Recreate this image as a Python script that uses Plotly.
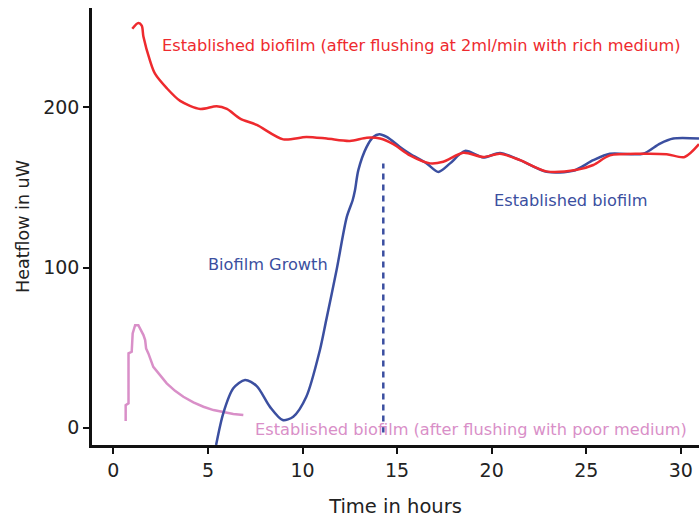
import plotly.graph_objects as go

# Red: established biofilm after flushing with rich medium
rich_t = [1.0, 1.32, 1.5, 1.59, 1.94, 2.2, 2.82, 3.53, 4.59, 5.46, 6.0, 6.7, 7.58, 8.98,
          10.2, 11.28, 12.5, 13.4, 14.1, 14.8, 15.68, 16.74, 17.44, 18.5, 19.56, 20.44,
          21.5, 22.9, 24.5, 25.37, 26.25, 28.0, 29.25, 30.2, 30.96]
rich_v = [249, 252.6, 251, 244, 229, 221, 212, 204, 199, 200.7, 199, 193, 189, 180,
          181.5, 180.5, 179, 181, 180.5, 177, 170, 165, 166, 171.6, 169, 171,
          167, 160, 161, 164, 170, 171, 170.7, 169, 177]

# Blue: biofilm growth then established biofilm
grow_t = [5.43, 5.81, 6.34, 6.96, 7.58, 8.28, 8.95, 9.51, 10.2, 10.92, 11.25, 11.8,
          12.34, 12.65, 12.77, 12.95, 13.39, 13.74, 14.06, 14.45, 15.15, 15.68, 16.56,
          17.18, 17.8, 18.59, 19.56, 20.44, 21.5, 22.9, 24.3, 25.37, 26.25, 28.0,
          28.9, 29.6, 30.96]
grow_v = [-10.8, 9, 24.6, 29.8, 26, 13, 4.8, 6.9, 19.3, 48.5, 67, 98.4,
          131.6, 142, 148, 160.8, 175.3, 181.5, 183.2, 181.5, 175.3, 171, 165,
          159.7, 165, 172.8, 168.7, 171.5, 167, 159.7, 160.3, 167, 171, 171,
          177.4, 180.5, 180.5]

# Pink: established biofilm after flushing with poor medium
poor_t = [0.65, 0.65, 0.8, 0.8, 0.97, 1.02, 1.15, 1.32, 1.59, 1.68, 1.73, 1.85, 2.11,
          2.47, 2.82, 3.26, 3.7, 4.23, 4.76, 5.29, 5.81, 6.34, 6.87]
poor_v = [4.2, 14, 15.2, 46.4, 47.4, 58.9, 64, 64, 57.8, 54.7, 49.5, 46.4, 38,
          32.9, 27.7, 23, 19.3, 15.8, 13.1, 11, 9.6, 8.5, 7.9]

# Flushing marker
flush_t = [14.27, 14.27]
flush_v = [-3, 165]

RED = "#ee2a2e"
BLUE = "#3b4fa0"
PINK = "#d98fc8"
FONT = "DejaVu Sans"

fig = go.Figure()
fig.add_trace(go.Scatter(x=poor_t, y=poor_v, mode="lines",
                         line=dict(color=PINK, width=2.5, shape="linear")))
fig.add_trace(go.Scatter(x=grow_t, y=grow_v, mode="lines",
                         line=dict(color=BLUE, width=2.5, shape="spline", smoothing=0.8)))
fig.add_trace(go.Scatter(x=rich_t, y=rich_v, mode="lines",
                         line=dict(color=RED, width=2.5, shape="spline", smoothing=0.8)))
fig.add_trace(go.Scatter(x=flush_t, y=flush_v, mode="lines",
                         line=dict(color=BLUE, width=2.5, dash="6px,5px")))

ann = [
    ("Established biofilm (after flushing at 2ml/min with rich medium)", 2.47, 238.6, RED),
    ("Biofilm Growth", 4.9, 102, BLUE),
    ("Established biofilm", 20.0, 142, BLUE),
    ("Established biofilm (after flushing with poor medium)", 7.38, -1.4, PINK),
]
for text, x, y, c in ann:
    fig.add_annotation(x=x, y=y, text=text, showarrow=False, xanchor="left",
                       yanchor="middle", font=dict(family=FONT, size=16.2, color=c))

fig.update_layout(
    width=699, height=518,
    margin=dict(l=92, r=0, t=8, b=73),
    plot_bgcolor="white", paper_bgcolor="white",
    showlegend=False,
    font=dict(family=FONT, color="#222222"),
)
fig.update_xaxes(range=[-1.13, 30.96], tickvals=[0, 5, 10, 15, 20, 25, 30],
                 showgrid=False, zeroline=False, showline=True, linecolor="#111111",
                 linewidth=2.5, ticks="outside", ticklen=6, tickwidth=1.5,
                 tickcolor="#111111", tickfont=dict(size=19),
                 title=dict(text="Time in hours", font=dict(size=19.5), standoff=20))
fig.update_yaxes(range=[-10.8, 262], tickvals=[0, 100, 200],
                 showgrid=False, zeroline=False, showline=True, linecolor="#111111",
                 linewidth=2.5, ticks="outside", ticklen=6, tickwidth=1.5,
                 tickcolor="#111111", tickfont=dict(size=19),
                 title=dict(text="Heatflow in uW", font=dict(size=17.5), standoff=10))

fig.write_html("out.html")
